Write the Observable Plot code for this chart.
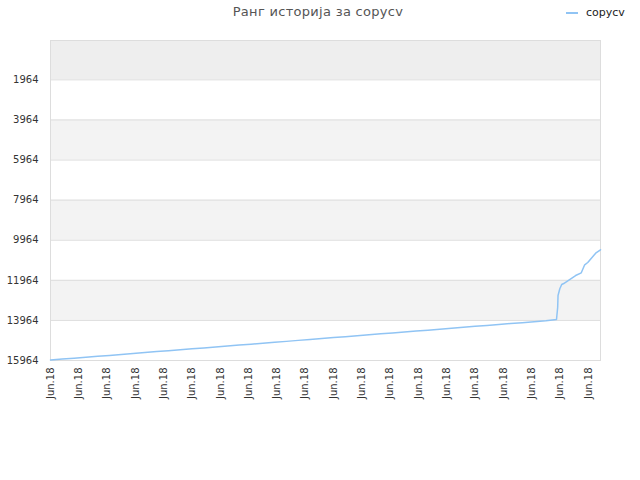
<!DOCTYPE html>
<html>
<head>
<meta charset="utf-8">
<script src="https://cdn.jsdelivr.net/npm/d3@7"></script>
<script src="https://cdn.jsdelivr.net/npm/@observablehq/plot@0.6"></script>
<style>
  html, body { margin: 0; padding: 0; background: #fff; }
  #wrap { position: relative; width: 640px; height: 480px; font-family: "DejaVu Sans", sans-serif; }
  #title { position: absolute; left: 0; width: 636px; top: 4px; text-align: center; font-size: 13px; color: #555; letter-spacing: 0.3px; }
  #legend { position: absolute; left: 566px; top: 6px; font-size: 11px; color: #222; display: flex; align-items: center; }
  #legend .sw { display: inline-block; width: 12px; height: 2px; background: #90c4f4; margin-right: 8px; }
</style>
</head>
<body>
<div id="wrap">
  <div id="title">Ранг историја за copycv</div>
  <div id="legend"><span class="sw"></span><span>copycv</span></div>
  <div id="chart"></div>
</div>
<script>
const seriesName = "copycv";
const startDate = "2018-06-01T00:00:00Z";
const endHours = 466.3;
// hours since start
const hours = [0, 10, 20, 30, 40, 50, 60, 70, 80, 90, 100, 110, 120, 130, 140, 150, 160, 170, 180, 190, 200,
  210, 220, 230, 240, 250, 260, 270, 280, 290, 300, 310, 320, 330, 340, 350, 360, 370, 380, 390, 400, 410, 420,
  429, 430, 430.3, 431.8, 433.4, 435.1, 445.2, 450, 452.9, 455.5, 462.2, 466.3];
const ranks = [15940, 15895, 15850, 15800, 15755, 15710, 15660, 15615, 15570, 15520, 15475, 15430, 15380, 15335, 15290, 15240, 15195, 15150, 15100, 15055, 15010,
  14960, 14915, 14870, 14820, 14775, 14730, 14680, 14635, 14590, 14540, 14495, 14450, 14400, 14355, 14310, 14260, 14215, 14170, 14120, 14075, 14030, 13980,
  13918, 13305, 12721, 12387, 12172, 12123, 11724, 11589, 11190, 11075, 10611, 10441];
const yTicks = [1964, 3964, 5964, 7964, 9964, 11964, 13964, 15964];
const bandStarts = [0, 3964, 7964, 11964];
const bandEnds = [1964, 5964, 9964, 13964];
const bandFills = ["#eeeeee", "#f3f3f3", "#f3f3f3", "#f3f3f3"];

const t0 = new Date(startDate);
const data = hours.map((h, i) => ({date: new Date(t0.getTime() + h * 3600e3), rank: ranks[i]}));
const bands = bandStarts.map((s, i) => ({y1: s, y2: bandEnds[i], fill: bandFills[i]}));
const tEnd = new Date(t0.getTime() + endHours * 3600e3);
const xTicks = d3.utcDay.range(t0, tEnd);

const chart = Plot.plot({
  width: 640,
  height: 480,
  marginTop: 40,
  marginLeft: 50,
  marginRight: 40,
  marginBottom: 120,
  style: {fontFamily: "DejaVu Sans, sans-serif", fontSize: "10px", color: "#333", background: "transparent"},
  x: {type: "utc", domain: [t0, tEnd], ticks: xTicks, tickFormat: d3.utcFormat("%b.%y"), tickRotate: -90, tickSize: 0, tickPadding: 7, label: null},
  y: {domain: [0, 15964], reverse: true, ticks: yTicks, tickFormat: d => String(d), tickSize: 0, tickPadding: 12, label: null},
  marks: [
    Plot.rect(bands, {x1: t0, x2: tEnd, y1: "y1", y2: "y2", fill: "fill"}),
    Plot.ruleY(yTicks, {stroke: "#dddddd", strokeWidth: 1}),
    Plot.frame({stroke: "#dddddd", strokeWidth: 1}),
    Plot.line(data, {x: "date", y: "rank", stroke: "#90c4f4", strokeWidth: 1.5}),
  ]
});
document.getElementById("chart").appendChild(chart);
</script>
</body>
</html>
